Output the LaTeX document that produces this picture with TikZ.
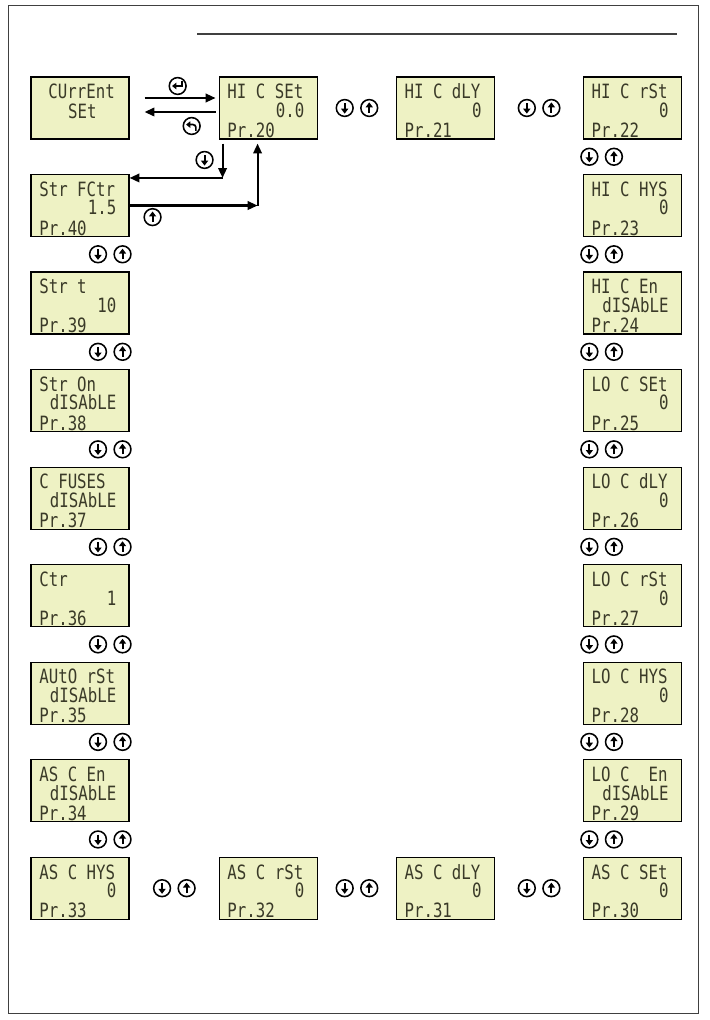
\documentclass[tikz,border=0pt]{standalone}
\usepackage{fontspec}
\usepackage{graphicx}
\usepackage{tikz}
\usetikzlibrary{positioning,arrows.meta,calc}
\newfontfamily\lcdfont{DejaVu Sans Mono}
\definecolor{lcdfill}{HTML}{EEF2C4}
\definecolor{lcdink}{HTML}{3A3A28}
\newcommand{\lcdsize}{\lcdfont\fontsize{14}{15}\selectfont}
\newcommand{\lcdtxt}[1]{\scalebox{0.8}[1]{#1}}

\begin{document}
\begin{tikzpicture}[
  lcd/.style={rectangle,draw=black,line width=0.8pt,fill=lcdfill,minimum width=2.45cm,minimum height=1.55cm,inner sep=0pt},
  ltop/.style={anchor=base west,inner sep=0pt,xshift=0.215cm,yshift=-0.56cm,font=\lcdsize,text=lcdink},
  lmid/.style={anchor=base east,inner sep=0pt,xshift=-0.325cm,yshift=-0.235cm,font=\lcdsize,text=lcdink},
  lbot/.style={anchor=base west,inner sep=0pt,xshift=0.215cm,yshift=0.05cm,font=\lcdsize,text=lcdink},
  ctop/.style={anchor=base,inner sep=0pt,xshift=0.04cm,yshift=-0.56cm,font=\lcdsize,text=lcdink},
  cmid/.style={anchor=base,inner sep=0pt,xshift=0.06cm,yshift=0.525cm,font=\lcdsize,text=lcdink},
  disp/.style n args={3}{label={[ltop]north west:\lcdtxt{#1}},label={[lmid]east:\lcdtxt{#2}},label={[lbot]south west:\lcdtxt{#3}}},
  flow/.style={-{Triangle[length=7pt,width=6pt]},line width=1.5pt},
  key/.style={circle,draw,line width=1.1pt,minimum size=0.42cm,inner sep=0pt},
  keydn/.style={key,path picture={\draw[line width=1.4pt,-{Triangle[length=3.5pt,width=5pt]}] ([yshift=3.5pt]path picture bounding box.center) -- ([yshift=-4pt]path picture bounding box.center);}},
  keyup/.style={key,path picture={\draw[line width=1.4pt,-{Triangle[length=3.5pt,width=5pt]}] ([yshift=-3.5pt]path picture bounding box.center) -- ([yshift=4pt]path picture bounding box.center);}},
  keyent/.style={key,path picture={\draw[line width=1.2pt,-{Triangle[length=3pt,width=4.5pt]}] ([shift={(3pt,3.5pt)}]path picture bounding box.center) -- ++(0,-3.5pt) -- ++(-7pt,0);}},
  keyesc/.style={key,path picture={\draw[line width=1.2pt,rounded corners=2pt,-{Triangle[length=3pt,width=4.5pt]}] ([shift={(3pt,-3.5pt)}]path picture bounding box.center) -- ++(0,4.5pt) -- ++(-7pt,0);}},
]
\useasboundingbox (0,0) rectangle (17.725,-25.5);

% frame and top rule
\draw[line width=0.6pt,black!75] (0.2,-0.125) rectangle (17.45,-25.325);
\draw[line width=1.5pt,black!75] (4.925,-0.85) -- (16.925,-0.85);

% top row
\node[lcd,label={[ctop]north:\lcdtxt{CUrrEnt}},label={[cmid]south:\lcdtxt{SEt}}] (cur) at (2.0,-2.7) {};
\node[lcd,disp={HI~C~SEt}{0.0}{Pr.20},right=2.225cm of cur] (hiset) {};
\node[lcd,disp={HI~C~dLY}{0}{Pr.21},right=1.95cm of hiset] (hidly) {};
\node[lcd,disp={HI~C~rSt}{0}{Pr.22},right=2.2cm of hidly] (hirst) {};

% right column
\node[lcd,disp={HI~C~HYS}{0}{Pr.23},below=0.86cm of hirst] (hihys) {};
\node[lcd,disp={HI~C~En}{dISAbLE}{Pr.24},below=0.86cm of hihys] (hien) {};
\node[lcd,disp={LO~C~SEt}{0}{Pr.25},below=0.86cm of hien] (loset) {};
\node[lcd,disp={LO~C~dLY}{0}{Pr.26},below=0.86cm of loset] (lodly) {};
\node[lcd,disp={LO~C~rSt}{0}{Pr.27},below=0.86cm of lodly] (lorst) {};
\node[lcd,disp={LO~C~HYS}{0}{Pr.28},below=0.86cm of lorst] (lohys) {};
\node[lcd,disp={LO~C~~En}{dISAbLE}{Pr.29},below=0.86cm of lohys] (loen) {};
\node[lcd,disp={AS~C~SEt}{0}{Pr.30},below=0.86cm of loen] (asset) {};

% left column
\node[lcd,disp={Str~FCtr}{1.5}{Pr.40},below=0.86cm of cur] (fctr) {};
\node[lcd,disp={Str~t}{10}{Pr.39},below=0.86cm of fctr] (strt) {};
\node[lcd,disp={Str~On}{dISAbLE}{Pr.38},below=0.86cm of strt] (stron) {};
\node[lcd,disp={C~FUSES}{dISAbLE}{Pr.37},below=0.86cm of stron] (fuses) {};
\node[lcd,disp={Ctr}{1}{Pr.36},below=0.86cm of fuses] (ctr) {};
\node[lcd,disp={AUtO~rSt}{dISAbLE}{Pr.35},below=0.86cm of ctr] (autorst) {};
\node[lcd,disp={AS~C~En}{dISAbLE}{Pr.34},below=0.86cm of autorst] (asen) {};
\node[lcd,disp={AS~C~HYS}{0}{Pr.33},below=0.86cm of asen] (ashys) {};

% bottom row
\node[lcd,disp={AS~C~rSt}{0}{Pr.32},right=2.225cm of ashys] (asrst) {};
\node[lcd,disp={AS~C~dLY}{0}{Pr.31},right=1.95cm of asrst] (asdly) {};

% enter / escape between CUrrEnt SEt and Pr.20
\draw[flow] ([xshift=0.375cm,yshift=0.25cm]cur.east) -- ([xshift=-0.075cm,yshift=0.25cm]hiset.west);
\draw[flow] ([xshift=-0.075cm,yshift=-0.1cm]hiset.west) -- ([xshift=0.375cm,yshift=-0.1cm]cur.east);
\node[keyent] (kent) at ($(cur.east)!0.5!(hiset.west)+(0.09,0.55)$) {};
\node[keyesc] (kesc) at ($(cur.east)!0.5!(hiset.west)+(0.44,-0.45)$) {};

% Pr.20 <-> Pr.40
\coordinate (turndn) at ($(hiset.south west |- fctr.north)+(0.1,-0.1)$);
\draw[flow] ($(hiset.south west)+(0.1,-0.1)$) -- (turndn);
\draw[flow] (turndn) -- (turndn -| fctr.east);
\coordinate (turnup) at ($(fctr.east -| hiset.south west)+(0.975,0)$);
\draw[flow] (fctr.east) -- (turnup);
\draw[flow] (turnup) -- ($(hiset.south west)+(0.975,-0.1)$);
\node[keydn] (kdn) at ($(turndn)+(-0.45,0.45)$) {};
\node[keyup] (kup) at ($(fctr.east)+(0.575,-0.29)$) {};

% key pairs
\foreach \a/\b in {fctr/strt,strt/stron,stron/fuses,fuses/ctr,ctr/autorst,autorst/asen,asen/ashys}{
  \node[keydn] (dn-\a) at ($(\a.south)!0.5!(\b.north)+(0.45,0)$) {};
  \node[keyup,right=0.155cm of dn-\a] (up-\a) {};
}
\foreach \a/\b in {hirst/hihys,hihys/hien,hien/loset,loset/lodly,lodly/lorst,lorst/lohys,lohys/loen,loen/asset}{
  \node[keydn] (dn-\a) at ($(\a.south)!0.5!(\b.north)+(-1.075,0)$) {};
  \node[keyup,right=0.155cm of dn-\a] (up-\a) {};
}
\foreach \a/\b in {hiset/hidly,hidly/hirst,ashys/asrst,asrst/asdly,asdly/asset}{
  \node[keydn] (dn-\a) at ($(\a.east)!0.5!(\b.west)+(-0.3,0)$) {};
  \node[keyup,right=0.155cm of dn-\a] (up-\a) {};
}

\end{tikzpicture}
\end{document}
